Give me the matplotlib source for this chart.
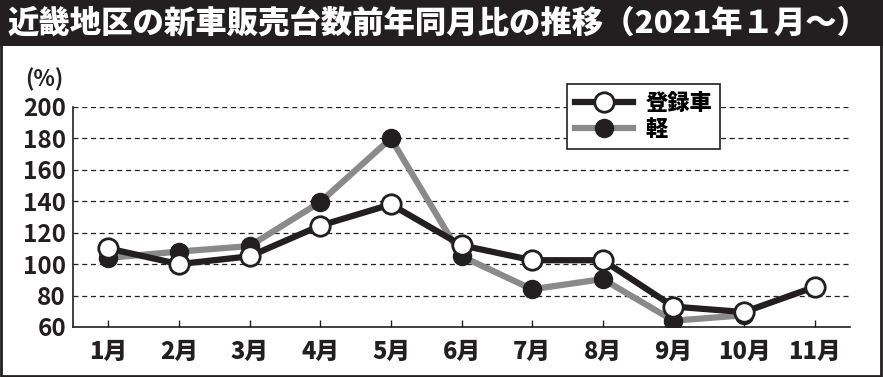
import matplotlib
matplotlib.use("Agg")
import matplotlib.pyplot as plt
from matplotlib.patches import Rectangle
from matplotlib.lines import Line2D

plt.rcParams['font.family'] = ['Noto Sans CJK JP', 'DejaVu Sans']

months = ["1月", "2月", "3月", "4月", "5月", "6月", "7月", "8月", "9月", "10月", "11月"]
registered = [110, 100, 105, 124.5, 138, 112, 102.5, 102.5, 73, 69.5, 85.5]
kei = [104, 108, 111.5, 139.5, 180, 105, 84, 90.5, 64, 67.5]
yticks = [60, 80, 100, 120, 140, 160, 180, 200]
title = "近畿地区の新車販売台数前年同月比の推移（2021年１月～）"

W, H = 883, 377
fig = plt.figure(figsize=(W / 100, H / 100), dpi=100)
fig.patch.set_facecolor("white")

# title bar and border
fig.patches.append(Rectangle((0, 1 - 46 / H), 1, 46 / H, transform=fig.transFigure,
                             facecolor="#231f20", edgecolor="none", zorder=0))
fig.patches.append(Rectangle((0.001, 0.003), 0.997, 0.995, transform=fig.transFigure,
                             facecolor="none", edgecolor="#231f20", lw=2, zorder=5))
fig.text(0.008, 1 - 23 / H, title, color="white", fontsize=22.6, fontweight="heavy",
         va="center", ha="left")

ax = fig.add_axes([73 / W, 50 / H, 777 / W, 220 / H])
x = list(range(1, len(months) + 1))

ax.plot(x[:len(kei)], kei, color="#8a8a8a", lw=4.5, marker="o", ms=13,
        mfc="#231f20", mec="#231f20", mew=1, zorder=3, label="軽",
        solid_joinstyle="miter")
ax.plot(x, registered, color="#231f20", lw=4.5, marker="o", ms=14,
        mfc="white", mec="#231f20", mew=2, zorder=4, label="登録車",
        solid_joinstyle="miter")

ax.set_xlim(0.5, len(months) + 0.5)
ax.set_ylim(60, 200)
ax.set_yticks(yticks)
ax.set_yticklabels([str(v) for v in yticks])
ax.set_xticks(x)
ax.set_xticklabels(months)
for v in yticks[1:]:
    ax.axhline(v, color="#231f20", lw=0.9, ls=(0, (4, 3)), zorder=1)

for s in ["top", "right"]:
    ax.spines[s].set_visible(False)
for s in ["left", "bottom"]:
    ax.spines[s].set_color("#231f20")
    ax.spines[s].set_linewidth(1.2)

ax.tick_params(axis="y", length=0, pad=5, labelsize=17.5, colors="#231f20")
ax.tick_params(axis="x", direction="in", length=5, width=1, pad=9, labelsize=17,
               colors="#231f20")
for lab in ax.get_yticklabels():
    lab.set_fontweight("bold")
    lab.set_family(["Liberation Sans Narrow", "Noto Sans CJK JP"])
for lab in ax.get_xticklabels():
    lab.set_fontweight("heavy")

fig.text(25 / W, 1 - 80 / H, "(%)", fontsize=16, fontweight="bold",
         family=["Liberation Sans Narrow", "Noto Sans CJK JP"], va="center", ha="left",
         color="#231f20")

handles = [
    Line2D([], [], color="#231f20", lw=4.5, marker="o", ms=14, mfc="white",
           mec="#231f20", mew=2),
    Line2D([], [], color="#8a8a8a", lw=4.5, marker="o", ms=13, mfc="#231f20",
           mec="#231f20"),
]
leg = fig.legend(handles, ["登録車", "軽"], loc="upper left",
                 bbox_to_anchor=(567 / W, 1 - 84 / H), borderaxespad=0, numpoints=1,
                 handlelength=2.6, handletextpad=0.6, borderpad=0.35,
                 labelspacing=0.15, fancybox=False, framealpha=1,
                 edgecolor="#231f20", prop={"weight": "heavy", "size": 16})
leg.get_frame().set_linewidth(1.2)

fig.savefig("out.png", dpi=100)
